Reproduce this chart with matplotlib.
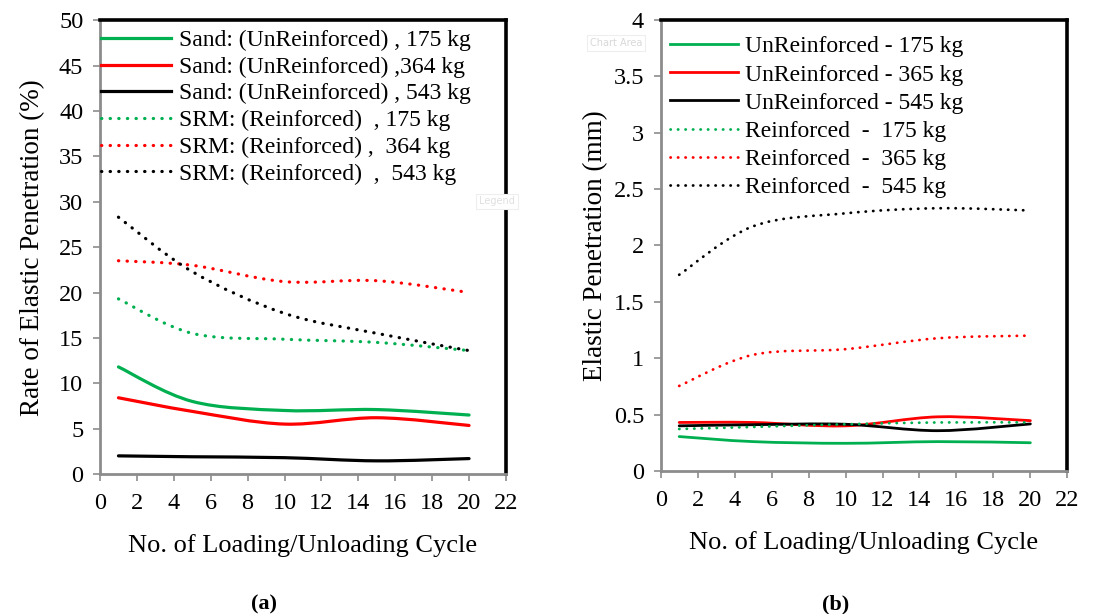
import matplotlib
matplotlib.use("Agg")
import matplotlib.pyplot as plt
import numpy as np
from matplotlib.lines import Line2D
from matplotlib.patches import PathPatch
from matplotlib.path import Path

plt.rcParams["font.family"] = ["Liberation Serif", "DejaVu Serif"]

cycles = [1, 5, 10, 15, 20]

# (a) rate of elastic penetration (%)
rate_sand_175 = [11.8, 8.0, 7.0, 7.1, 6.5]
rate_sand_364 = [8.4, 6.9, 5.5, 6.2, 5.35]
rate_sand_543 = [2.0, 1.9, 1.8, 1.45, 1.7]
rate_srm_175 = [19.3, 15.5, 14.85, 14.5, 13.6]
rate_srm_364 = [23.5, 23.0, 21.2, 21.3, 20.0]
rate_srm_543 = [28.3, 22.3, 17.7, 15.5, 13.6]

# (b) elastic penetration (mm)
pen_unr_175 = [0.305, 0.26, 0.245, 0.26, 0.25]
pen_unr_365 = [0.43, 0.43, 0.40, 0.48, 0.446]
pen_unr_545 = [0.40, 0.41, 0.414, 0.357, 0.417]
pen_rei_175 = [0.372, 0.39, 0.414, 0.43, 0.43]
pen_rei_365 = [0.754, 1.03, 1.08, 1.177, 1.2]
pen_rei_545 = [1.74, 2.17, 2.285, 2.33, 2.31]

labels_a = ["Sand: (UnReinforced) , 175 kg", "Sand: (UnReinforced) ,364 kg",
            "Sand: (UnReinforced) , 543 kg", "SRM: (Reinforced)  , 175 kg",
            "SRM: (Reinforced) ,  364 kg", "SRM: (Reinforced)  ,  543 kg"]
labels_b = ["UnReinforced - 175 kg", "UnReinforced - 365 kg", "UnReinforced - 545 kg",
            "Reinforced  -  175 kg", "Reinforced  -  365 kg", "Reinforced  -  545 kg"]

GREEN, RED, BLACK = "#00b050", "#ff0000", "#000000"
DOT = (0, (0.1, 2.6))


def smooth_path(x, y):
    # Excel-style smoothed line: cubic Bezier segments through the points
    pts = np.column_stack([x, y]).astype(float)
    n = len(pts)
    verts = [pts[0]]
    codes = [Path.MOVETO]
    for i in range(n - 1):
        p0 = pts[max(i - 1, 0)]
        p1, p2 = pts[i], pts[i + 1]
        p3 = pts[min(i + 2, n - 1)]
        verts += [p1 + (p2 - p0) / 6, p2 - (p3 - p1) / 6, p2]
        codes += [Path.CURVE4] * 3
    return Path(verts, codes)


def draw_series(ax, ys, colors, styles, lw):
    for y, c, ls in zip(ys, colors, styles):
        ax.add_patch(PathPatch(smooth_path(cycles, y), fill=False, edgecolor=c,
                               linestyle=ls, lw=lw, capstyle="round"))


def style_axes(ax, ymax, ystep):
    ax.set_xlim(0, 22)
    ax.set_ylim(0, ymax)
    ax.set_xticks(range(0, 23, 2))
    yt = np.arange(0, ymax + ystep / 2, ystep)
    ax.set_yticks(yt)
    ax.set_yticklabels([f"{v:g}" for v in yt])
    for side in ("left", "bottom"):
        ax.spines[side].set_color("#8c8c8c")
        ax.spines[side].set_linewidth(2.0)
    for side in ("top", "right"):
        ax.spines[side].set_color("black")
        ax.spines[side].set_linewidth(2.6)
    ax.tick_params(direction="out", length=5, width=1.2, color="#8c8c8c",
                   labelsize=17.5)
    ax.tick_params(axis="x", pad=9)
    ax.tick_params(axis="y", pad=7)
    ax.set_xlabel("No. of Loading/Unloading Cycle", fontsize=19, labelpad=14)


fig = plt.figure(figsize=(11.11, 6.14), dpi=100)
ax1 = fig.add_axes([0.090, 0.228, 0.3654, 0.739])
ax2 = fig.add_axes([0.5947, 0.233, 0.366, 0.7345])

colors = [GREEN, RED, BLACK, GREEN, RED, BLACK]
styles = ["-", "-", "-", DOT, DOT, DOT]

draw_series(ax1, [rate_sand_175, rate_sand_364, rate_sand_543,
                  rate_srm_175, rate_srm_364, rate_srm_543], colors, styles, 2.3)
style_axes(ax1, 50, 5)
ax1.set_ylabel("Rate of Elastic Penetration (%)", fontsize=19.5, labelpad=10)

draw_series(ax2, [pen_unr_175, pen_unr_365, pen_unr_545,
                  pen_rei_175, pen_rei_365, pen_rei_545], colors, styles, 2.0)
style_axes(ax2, 4, 0.5)
ax2.set_ylabel("Elastic Penetration (mm)", fontsize=19.5, labelpad=4)

handles_a = [Line2D([], [], color=c, ls=ls, lw=2.3, dash_capstyle="round")
             for c, ls in zip(colors, styles)]
handles_b = [Line2D([], [], color=c, ls=ls, lw=2.0, dash_capstyle="round")
             for c, ls in zip(colors, styles)]
ax1.legend(handles_a, labels_a, loc="upper left", bbox_to_anchor=(-0.01, 0.99),
           frameon=False, fontsize=17, handlelength=3.0, handletextpad=0.3,
           labelspacing=0.22, borderpad=0.2, borderaxespad=0)
ax2.legend(handles_b, labels_b, loc="upper left", bbox_to_anchor=(0.01, 0.975),
           frameon=False, fontsize=17, handlelength=2.9, handletextpad=0.28,
           labelspacing=0.28, borderpad=0.2, borderaxespad=0)

# faint Excel hover tips left in the screenshot
tip = dict(boxstyle="square,pad=0.3", fc="white", ec="#eeeeee", lw=0.8)
fig.text(0.531, 0.925, "Chart Area", fontsize=7, color="#d8d8d8",
         family="DejaVu Sans", bbox=tip)
fig.text(0.431, 0.667, "Legend", fontsize=7, color="#e0e0e0",
         family="DejaVu Sans", bbox=tip)

fig.text(0.2376, 0.008, "(a)", fontsize=16, fontweight="bold", ha="center")
fig.text(0.7525, 0.008, "(b)", fontsize=16, fontweight="bold", ha="center")

fig.savefig("out.png", dpi=100)
